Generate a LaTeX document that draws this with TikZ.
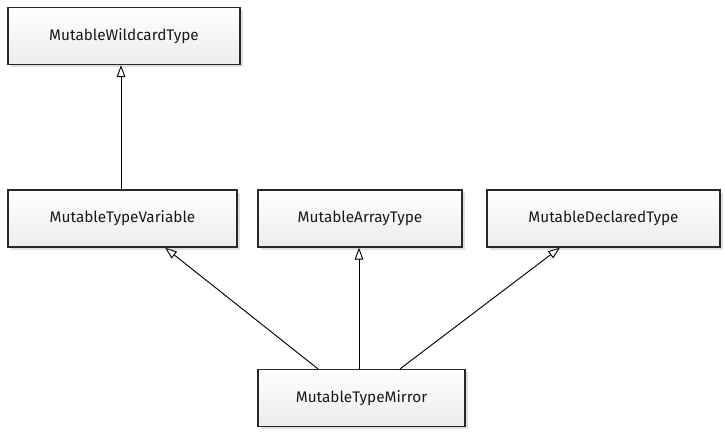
\documentclass[tikz,border=0pt]{standalone}
\usepackage{fontspec}
\setmainfont{Fira Sans}
\usetikzlibrary{arrows.meta}
\usetikzlibrary{calc}
\usetikzlibrary{shadows}
\pgfdeclarelayer{edgelayer}
\pgfdeclarelayer{nodelayer}
\pgfsetlayers{edgelayer,nodelayer,main}
\definecolor{boxline}{RGB}{40,40,40}
\definecolor{boxfill}{RGB}{236,236,236}
\tikzstyle{none}=[inner sep=0pt]
\tikzstyle{classbox}=[rectangle,draw=boxline,line width=0.9pt,top color=white,bottom color=boxfill,minimum height=42.75pt,font=\fontsize{11.5}{13}\selectfont,text=black!90,drop shadow={shadow xshift=2pt,shadow yshift=-2pt,opacity=0.25}]
\tikzstyle{inherits}=[-{Triangle[open,length=9pt,width=6.5pt]},draw=black,line width=0.7pt]

\begin{document}
\begin{tikzpicture}[x=0.75pt,y=-0.75pt]
	\useasboundingbox (0, 0) rectangle (725, 435);
	\begin{pgfonlayer}{nodelayer}
		\node [style=classbox, minimum width=174pt] (0) at (124, 36) {MutableWildcardType};
		\node [style=classbox, minimum width=171.75pt] (1) at (122.5, 218.5) {MutableTypeVariable};
		\node [style=classbox, minimum width=153pt] (2) at (360, 218.5) {MutableArrayType};
		\node [style=classbox, minimum width=174.75pt] (3) at (603.5, 218.5) {MutableDeclaredType};
		\node [style=classbox, minimum width=155.25pt] (4) at (361.5, 398) {MutableTypeMirror};
	\end{pgfonlayer}
	\begin{pgfonlayer}{edgelayer}
		\draw [style=inherits] ($(1.north)+(-1.5, 0)$) to ($(0.south)+(-3, 0)$);
		\draw [style=inherits] ($(4.north)+(-43.5, 0)$) to ($(1.south)+(42.5, 0)$);
		\draw [style=inherits] ($(4.north)+(-2.5, 0)$) to ($(2.south)+(-1, 0)$);
		\draw [style=inherits] ($(4.north)+(38.5, 0)$) to ($(3.south)+(-43.5, 0)$);
	\end{pgfonlayer}
\end{tikzpicture}
\end{document}
